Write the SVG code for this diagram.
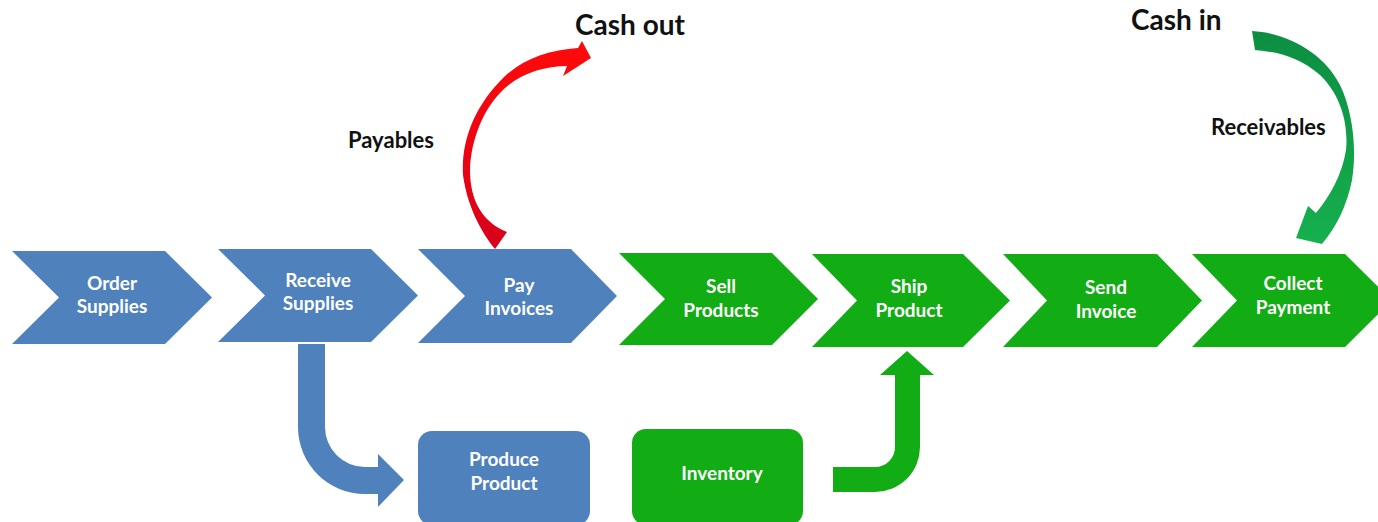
<svg xmlns="http://www.w3.org/2000/svg" width="1378" height="522" viewBox="0 0 1378 522">
<defs>
<style>
.blue{fill:#4F81BD}
.green{fill:#12AD14}
.nt{font-family:Lato,"Liberation Sans",sans-serif;font-weight:bold;font-size:19px;fill:#FFFFFF;text-anchor:middle}
.lbl{font-family:Lato,"Liberation Sans",sans-serif;font-weight:bold;fill:#111111}
</style>
<linearGradient id="redg" x1="0" y1="0" x2="0" y2="1">
<stop offset="0" stop-color="#FF0A0A"/>
<stop offset="1" stop-color="#D8001A"/>
</linearGradient>
<linearGradient id="greeng" x1="0" y1="0" x2="0" y2="1">
<stop offset="0" stop-color="#0C8E42"/>
<stop offset="1" stop-color="#16B04E"/>
</linearGradient>
</defs>
<rect width="1378" height="522" fill="#FFFFFF"/>

<g id="order-supplies">
<polygon class="blue" points="12,251 165,251 212,297.5 165,344 12,344 59,297.5"/>
<text class="nt" x="112" y="290">Order</text>
<text class="nt" x="112" y="313">Supplies</text>
</g>
<g id="receive-supplies">
<polygon class="blue" points="218,249 371,249 418,295.5 371,342 218,342 265,295.5"/>
<text class="nt" x="318" y="287">Receive</text>
<text class="nt" x="318" y="310">Supplies</text>
</g>
<g id="pay-invoices">
<polygon class="blue" points="418,249 571,249 617,296 571,343 418,343 465,296"/>
<text class="nt" x="519" y="292">Pay</text>
<text class="nt" x="519" y="315">Invoices</text>
</g>
<g id="sell-products">
<polygon class="green" points="619,253 772,253 818,299 772,345 619,345 665,299"/>
<text class="nt" x="721" y="293">Sell</text>
<text class="nt" x="721" y="317">Products</text>
</g>
<g id="ship-product">
<polygon class="green" points="812,254 963,254 1010,300.5 963,347 812,347 857,300.5"/>
<text class="nt" x="909" y="293">Ship</text>
<text class="nt" x="909" y="317">Product</text>
</g>
<g id="send-invoice">
<polygon class="green" points="1003,254 1157,254 1202,300.5 1157,347 1003,347 1047,300.5"/>
<text class="nt" x="1106" y="294">Send</text>
<text class="nt" x="1106" y="318">Invoice</text>
</g>
<g id="collect-payment">
<polygon class="green" points="1192,254 1345,254 1392,300.5 1345,347 1192,347 1237,300.5"/>
<text class="nt" x="1293" y="290">Collect</text>
<text class="nt" x="1293" y="314">Payment</text>
</g>
<g id="produce-product">
<rect class="blue" x="418" y="431" width="172" height="94" rx="14"/>
<text class="nt" x="504" y="466">Produce</text>
<text class="nt" x="504" y="490">Product</text>
</g>
<g id="inventory">
<rect class="green" x="632" y="429" width="171" height="96" rx="14"/>
<text class="nt" x="722" y="480">Inventory</text>
</g>

<g id="connectors">
<path class="blue" d="M298,344 L325,344 L325,427 A40,40 0 0 0 365,467 L378,467 L378,454 L404,480 L378,507 L378,494 L365,494 A67,67 0 0 1 298,427 Z"/>
<path class="green" d="M833,467 L875,467 A20,20 0 0 0 895,447 L895,375 L880,375 L907,351 L934,375 L920,375 L920,447 A45,45 0 0 1 875,492 L833,492 Z"/>
<path fill="url(#redg)" d="M495,249 C486,238 468,212 463,175 C461,140 475,105 505,76 C525,58 550,50 578,48 L582,41 L591,58 L563,76 L567,66 C545,66 522,73 505,88 C483,108 471,140 470,170 C470,200 482,222 507,232 Z"/>
<path fill="url(#greeng)" d="M1252,31 C1290,33 1325,55 1340,85 C1353,112 1357,150 1352,180 C1347,205 1337,226 1322,244 L1296,238 L1308,206 L1316,213 C1330,196 1342,175 1346,150 C1349,120 1338,92 1320,75 C1300,58 1280,52 1255,50 Z"/>
</g>

<g id="labels">
<text class="lbl" x="575" y="35" font-size="28">Cash out</text>
<text class="lbl" x="1131" y="30" font-size="28">Cash in</text>
<text class="lbl" x="348" y="148" font-size="22">Payables</text>
<text class="lbl" x="1211" y="135" font-size="22">Receivables</text>
</g>
</svg>
